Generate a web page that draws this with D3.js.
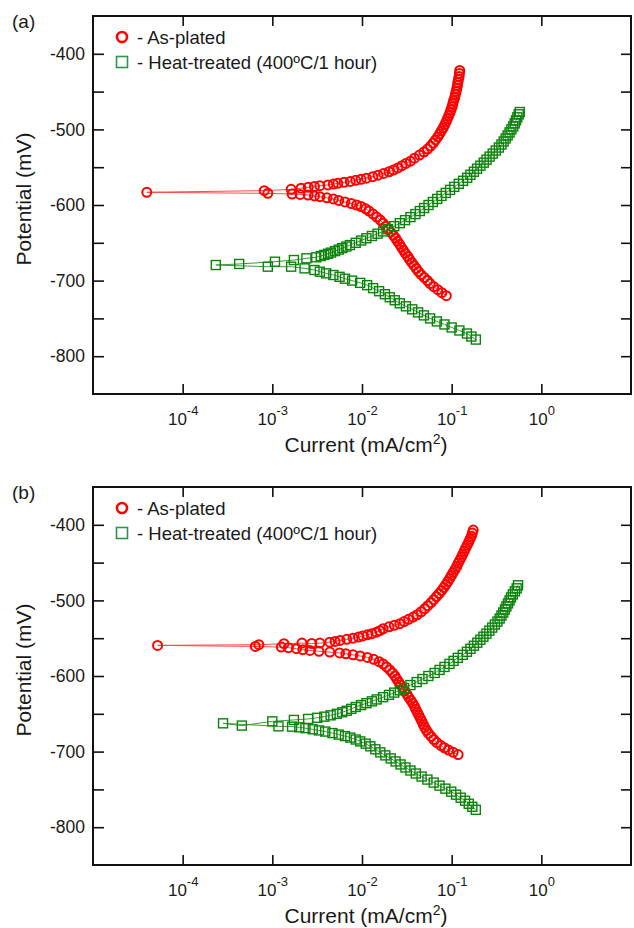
<!DOCTYPE html>
<html>
<head>
<meta charset="utf-8">
<script src="https://cdn.jsdelivr.net/npm/d3@7/dist/d3.min.js"></script>
<style>
  html, body { margin: 0; padding: 0; background: #ffffff; }
  svg { display: block; }
</style>
</head>
<body>
<script>
// ---------- DATA (potential in mV, current in mA/cm²), scan order: cathodic end -> Ecorr -> anodic end ----------
const panelLabels = ["(a)", "(b)"];
const seriesNames = ["- As-plated", "- Heat-treated (400ºC/1 hour)"];
const xTickValues = [1e-4, 1e-3, 1e-2, 1e-1, 1];
const xTickExponents = ["-4", "-3", "-2", "-1", "0"];
const yTickValues = [-400, -500, -600, -700, -800];
const yMinorTickValues = [-450, -550, -650, -750];

const asPlatedA = [
[-720,8.71e-2],[-716,7.76e-2],[-712,7.00e-2],[-708,6.31e-2],[-704,5.75e-2],[-700,5.37e-2],[-696,4.95e-2],[-692,4.57e-2],[-688,4.27e-2],[-684,4.03e-2],[-680,3.80e-2],[-676,3.59e-2],[-672,3.39e-2],[-668,3.24e-2],[-664,3.05e-2],[-660,2.90e-2],[-656,2.75e-2],[-652,2.63e-2],[-648,2.49e-2],[-644,2.37e-2],[-640,2.24e-2],[-636,2.09e-2],[-632,1.97e-2],[-628,1.84e-2],[-624,1.72e-2],[-620,1.60e-2],[-616,1.46e-2],[-612,1.33e-2],[-608,1.20e-2],[-605,1.10e-2],[-602,9.77e-3],[-600,8.71e-3],[-598,7.59e-3],[-596,6.46e-3],[-594,5.50e-3],[-592,4.79e-3],[-590.5,4.07e-3],[-589,3.39e-3],[-588,2.95e-3],[-586.8,2.51e-3],[-586,2.04e-3],[-585.5,1.66e-3],[-584.6,8.91e-4],[-583.2,3.98e-5],[-581,8.13e-4],[-579.3,1.62e-3],[-577.8,2.09e-3],[-576.6,2.51e-3],[-575.5,2.95e-3],[-574.5,3.39e-3],[-573.5,4.17e-3],[-572.3,4.79e-3],[-571.3,5.37e-3],[-570,6.31e-3],[-568.8,7.41e-3],[-567.3,8.51e-3],[-566,9.77e-3],[-564.5,1.12e-2],[-562.6,1.32e-2],[-560.5,1.51e-2],[-558.3,1.74e-2],[-556,2.00e-2],[-553.7,2.24e-2],[-551,2.51e-2],[-548,2.79e-2],[-545,3.09e-2],[-542,3.47e-2],[-538,3.85e-2],[-534,4.37e-2],[-530,4.90e-2],[-526,5.37e-2],[-522,5.82e-2],[-518,6.24e-2],[-514,6.61e-2],[-510,7.00e-2],[-506,7.33e-2],[-502,7.67e-2],[-498,8.04e-2],[-494,8.36e-2],[-490,8.67e-2],[-486,8.95e-2],[-482,9.27e-2],[-478,9.55e-2],[-474,9.82e-2],[-470,1.01e-1],[-466,1.03e-1],[-462,1.05e-1],[-458,1.08e-1],[-454,1.10e-1],[-450,1.12e-1],[-446,1.14e-1],[-442,1.16e-1],[-438,1.17e-1],[-434,1.19e-1],[-430,1.21e-1],[-426,1.22e-1],[-422,1.23e-1]
];

const heatTreatedA = [
[-778,1.86e-1],[-774,1.66e-1],[-770,1.48e-1],[-766,1.22e-1],[-762,1.00e-1],[-758,8.32e-2],[-754,6.84e-2],[-750,5.75e-2],[-746,4.90e-2],[-742,4.22e-2],[-738,3.63e-2],[-734,3.09e-2],[-730,2.64e-2],[-726,2.32e-2],[-722,2.04e-2],[-718,1.80e-2],[-714,1.55e-2],[-710,1.33e-2],[-706,1.14e-2],[-703,9.55e-3],[-700,7.76e-3],[-697.5,6.46e-3],[-695,5.62e-3],[-692.6,4.79e-3],[-690.4,3.98e-3],[-688.2,3.39e-3],[-686,2.95e-3],[-683.8,2.29e-3],[-681.6,1.62e-3],[-681.6,8.91e-4],[-679.4,2.34e-4],[-678,4.27e-4],[-675,1.07e-3],[-672.8,1.74e-3],[-670.5,2.40e-3],[-669.2,3.09e-3],[-667.5,3.47e-3],[-666,3.80e-3],[-664.5,4.17e-3],[-663,4.52e-3],[-661,5.01e-3],[-659,5.50e-3],[-657,6.03e-3],[-655,6.68e-3],[-653,7.33e-3],[-650,8.51e-3],[-647,9.77e-3],[-644,1.12e-2],[-641,1.29e-2],[-638,1.49e-2],[-635,1.72e-2],[-632,1.95e-2],[-628,2.29e-2],[-624,2.64e-2],[-620,3.02e-2],[-616,3.47e-2],[-612,3.94e-2],[-608,4.42e-2],[-604,4.93e-2],[-600,5.52e-2],[-596,6.17e-2],[-592,6.89e-2],[-588,7.69e-2],[-584,8.59e-2],[-580,9.59e-2],[-576,1.07e-1],[-572,1.20e-1],[-568,1.34e-1],[-564,1.49e-1],[-560,1.62e-1],[-556,1.77e-1],[-552,1.92e-1],[-548,2.09e-1],[-544,2.28e-1],[-540,2.45e-1],[-536,2.65e-1],[-532,2.87e-1],[-528,3.10e-1],[-524,3.36e-1],[-520,3.59e-1],[-516,3.80e-1],[-512,4.00e-1],[-508,4.21e-1],[-504,4.42e-1],[-500,4.63e-1],[-496,4.86e-1],[-492,5.05e-1],[-488,5.22e-1],[-484,5.40e-1],[-480,5.60e-1],[-477,5.75e-1]
];

const asPlatedB = [
[-704,1.18e-1],[-701,1.04e-1],[-698,9.23e-2],[-695,8.32e-2],[-692,7.59e-2],[-688,6.84e-2],[-684,6.31e-2],[-680,5.89e-2],[-676,5.52e-2],[-672,5.25e-2],[-668,5.01e-2],[-664,4.83e-2],[-660,4.65e-2],[-656,4.47e-2],[-652,4.31e-2],[-648,4.14e-2],[-644,3.98e-2],[-640,3.84e-2],[-636,3.67e-2],[-632,3.49e-2],[-628,3.31e-2],[-624,3.16e-2],[-620,3.00e-2],[-616,2.85e-2],[-612,2.70e-2],[-608,2.57e-2],[-604,2.44e-2],[-600,2.33e-2],[-596,2.19e-2],[-592,2.04e-2],[-588,1.88e-2],[-584,1.72e-2],[-581,1.55e-2],[-578,1.35e-2],[-575.5,1.15e-2],[-573.5,9.55e-3],[-572,7.94e-3],[-570.6,6.61e-3],[-569.5,5.62e-3],[-568.4,4.37e-3],[-567.3,3.31e-3],[-566.2,2.63e-3],[-565.2,2.19e-3],[-563.9,1.86e-3],[-562.5,1.51e-3],[-561.8,1.26e-3],[-560.9,6.46e-4],[-559.5,5.25e-5],[-558.6,7.08e-4],[-557.3,1.35e-3],[-556.5,2.14e-3],[-557,2.75e-3],[-556.5,3.39e-3],[-555.2,4.37e-3],[-554.2,5.01e-3],[-552.9,5.69e-3],[-551.5,6.76e-3],[-550,7.94e-3],[-548.5,9.12e-3],[-547,1.02e-2],[-545.5,1.15e-2],[-544,1.29e-2],[-542,1.45e-2],[-540,1.58e-2],[-537.5,1.72e-2],[-535,2.00e-2],[-533,2.29e-2],[-530.8,2.64e-2],[-528,2.95e-2],[-525,3.31e-2],[-522,3.72e-2],[-519,4.12e-2],[-515,4.57e-2],[-511,5.01e-2],[-507,5.43e-2],[-503,5.89e-2],[-499,6.31e-2],[-495,6.76e-2],[-491,7.24e-2],[-487,7.71e-2],[-483,8.17e-2],[-479,8.61e-2],[-475,9.06e-2],[-471,9.52e-2],[-467,9.95e-2],[-463,1.04e-1],[-459,1.09e-1],[-455,1.14e-1],[-451,1.18e-1],[-447,1.23e-1],[-443,1.28e-1],[-439,1.33e-1],[-435,1.38e-1],[-431,1.43e-1],[-427,1.49e-1],[-423,1.55e-1],[-419,1.60e-1],[-415,1.66e-1],[-411,1.70e-1],[-407,1.74e-1]
];

const heatTreatedB = [
[-777,1.86e-1],[-773,1.70e-1],[-769,1.55e-1],[-765,1.41e-1],[-761,1.26e-1],[-757,1.12e-1],[-753,9.89e-2],[-749,8.51e-2],[-745,7.33e-2],[-741,6.31e-2],[-737,5.37e-2],[-733,4.62e-2],[-729,3.98e-2],[-725,3.47e-2],[-721,3.05e-2],[-717,2.69e-2],[-713,2.37e-2],[-709,2.09e-2],[-705,1.82e-2],[-701,1.60e-2],[-697,1.41e-2],[-693,1.24e-2],[-689.5,1.10e-2],[-686.5,9.55e-3],[-684,8.51e-3],[-681.5,7.41e-3],[-679.5,6.46e-3],[-677.5,5.50e-3],[-675.5,4.68e-3],[-673.5,3.89e-3],[-672,3.31e-3],[-670.5,2.82e-3],[-669,2.34e-3],[-667.9,2.00e-3],[-667,1.66e-3],[-666.6,1.17e-3],[-662.6,2.82e-4],[-665.6,4.57e-4],[-660,1.00e-3],[-658.1,1.74e-3],[-656.8,2.51e-3],[-655.3,3.16e-3],[-653.8,3.80e-3],[-652,4.47e-3],[-650,5.25e-3],[-648,6.03e-3],[-646,6.76e-3],[-643.5,7.59e-3],[-641,8.51e-3],[-638.5,9.77e-3],[-636,1.12e-2],[-633.5,1.29e-2],[-631,1.46e-2],[-628,1.72e-2],[-625,2.00e-2],[-622,2.29e-2],[-619,2.64e-2],[-616,2.95e-2],[-612,3.47e-2],[-608,4.07e-2],[-604,4.73e-2],[-600,5.50e-2],[-596,6.46e-2],[-592,7.33e-2],[-588,8.32e-2],[-584,9.44e-2],[-580,1.05e-1],[-576,1.17e-1],[-572,1.33e-1],[-568,1.48e-1],[-564,1.62e-1],[-560,1.77e-1],[-556,1.93e-1],[-552,2.09e-1],[-548,2.26e-1],[-544,2.44e-1],[-540,2.63e-1],[-536,2.83e-1],[-532,3.03e-1],[-528,3.24e-1],[-524,3.43e-1],[-520,3.59e-1],[-516,3.76e-1],[-512,3.93e-1],[-508,4.08e-1],[-504,4.25e-1],[-500,4.42e-1],[-496,4.59e-1],[-492,4.81e-1],[-488,5.07e-1],[-484,5.31e-1],[-480,5.50e-1]
];

// ---------- LAYOUT ----------
const W = 634, H = 928;
const FONT = "'Liberation Sans', Arial, Helvetica, sans-serif";
const TEXT = "#1a1a1a";
const AXIS = "#111111";
const plotLeft = 93, plotRight = 631;
const panels = [
  { label: panelLabels[0], series: [asPlatedA, heatTreatedA], top: 16, bottom: 394, labelY: 28 },
  { label: panelLabels[1], series: [asPlatedB, heatTreatedB], top: 487, bottom: 865, labelY: 499 }
];
const styles = [
  { marker: "#ff0000", line: "#ff4a4a", shape: "circle" },
  { marker: "#0b840b", line: "#3a9a3a", shape: "square" }
];

const svg = d3.select("body").append("svg")
  .attr("width", W).attr("height", H)
  .style("font-family", FONT);

panels.forEach(p => {
  const g = svg.append("g");
  const x = d3.scaleLog().domain([1e-5, 10]).range([plotLeft, plotRight]);
  const y = d3.scaleLinear().domain([-850, -350]).range([p.bottom, p.top]);

  // data
  const line = d3.line().x(d => x(d[1])).y(d => y(d[0]));
  p.series.forEach((data, i) => {
    const st = styles[i];
    g.append("path").datum(data)
      .attr("d", line).attr("fill", "none")
      .attr("stroke", st.line).attr("stroke-width", 1);
    if (st.shape === "circle") {
      g.append("g").selectAll("circle").data(data).join("circle")
        .attr("cx", d => x(d[1])).attr("cy", d => y(d[0]))
        .attr("r", 4.5).attr("fill", "none")
        .attr("stroke", st.marker).attr("stroke-width", 2);
    } else {
      const s = 9;
      g.append("g").selectAll("rect").data(data).join("rect")
        .attr("x", d => x(d[1]) - s / 2).attr("y", d => y(d[0]) - s / 2)
        .attr("width", s).attr("height", s).attr("fill", "none")
        .attr("stroke", st.marker).attr("stroke-width", 1.4);
    }
  });

  // axes (ticks inside)
  const styleAxis = sel => {
    sel.select(".domain").remove();
    sel.attr("font-family", null).attr("font-size", null);
    sel.selectAll(".tick line").attr("stroke", AXIS).attr("stroke-width", 1.6);
  };
  const yAll = yTickValues.concat(yMinorTickValues);
  g.append("g").attr("transform", `translate(${plotLeft},0)`)
    .call(d3.axisLeft(y).tickValues(yAll).tickSize(-11).tickSizeOuter(0).tickPadding(8)
      .tickFormat(d => yTickValues.includes(d) ? String(d) : ""))
    .call(styleAxis)
    .call(s => s.selectAll(".tick text").attr("fill", TEXT).attr("font-size", 17.5).attr("font-family", FONT));
  g.append("g").attr("transform", `translate(${plotRight},0)`)
    .call(d3.axisRight(y).tickValues(yAll).tickSize(-10).tickSizeOuter(0).tickFormat(""))
    .call(styleAxis);
  g.append("g").attr("transform", `translate(0,${p.top})`)
    .call(d3.axisTop(x).tickValues(xTickValues).tickSize(-10).tickSizeOuter(0).tickFormat(""))
    .call(styleAxis);
  const xb = g.append("g").attr("transform", `translate(0,${p.bottom})`)
    .call(d3.axisBottom(x).tickValues(xTickValues).tickSize(-10).tickSizeOuter(0).tickFormat(""))
    .call(styleAxis);
  xb.selectAll(".tick").each(function (d, i) {
    const t = d3.select(this).append("text")
      .attr("y", 31).attr("text-anchor", "middle")
      .attr("fill", TEXT).attr("font-family", FONT).attr("font-size", 17);
    t.append("tspan").text("10");
    t.append("tspan").attr("font-size", 13).attr("dy", -10).text(xTickExponents[i]);
  });

  // frame
  g.append("rect")
    .attr("x", plotLeft).attr("y", p.top)
    .attr("width", plotRight - plotLeft).attr("height", p.bottom - p.top)
    .attr("fill", "none").attr("stroke", AXIS).attr("stroke-width", 2);

  // axis titles
  const xt = g.append("text")
    .attr("x", 366).attr("y", p.bottom + 58)
    .attr("text-anchor", "middle").attr("font-size", 21).attr("fill", TEXT);
  xt.append("tspan").text("Current (mA/cm");
  xt.append("tspan").attr("font-size", 14).attr("dy", -8).text("2");
  xt.append("tspan").attr("dy", 8).text(")");

  g.append("text")
    .attr("transform", `translate(31,${(p.top + p.bottom) / 2 - 6}) rotate(-90)`)
    .attr("text-anchor", "middle").attr("font-size", 21).attr("fill", TEXT)
    .text("Potential (mV)");

  // panel label
  g.append("text").attr("x", 12).attr("y", p.labelY)
    .attr("font-size", 19).attr("fill", TEXT).text(p.label);

  // legend
  g.append("circle").attr("cx", 122).attr("cy", p.top + 21).attr("r", 5)
    .attr("fill", "none").attr("stroke", "#ff0000").attr("stroke-width", 2.6);
  g.append("text").attr("x", 137).attr("y", p.top + 27.5)
    .attr("font-size", 18.5).attr("fill", TEXT).text(seriesNames[0]);
  g.append("rect").attr("x", 122 - 5.5).attr("y", p.top + 46 - 5.5)
    .attr("width", 11).attr("height", 11)
    .attr("fill", "none").attr("stroke", "#2a9648").attr("stroke-width", 1.6);
  g.append("text").attr("x", 137).attr("y", p.top + 52.5)
    .attr("font-size", 18.5).attr("fill", TEXT).text(seriesNames[1]);
});
</script>
</body>
</html>
